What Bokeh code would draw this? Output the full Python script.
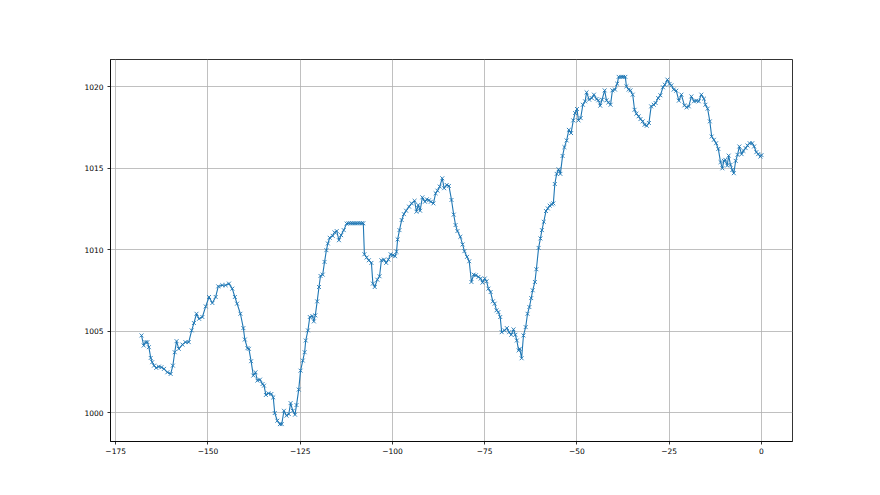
from bokeh.plotting import figure
from bokeh.models import Range1d, FixedTicker, CustomJSTickFormatter, ColumnDataSource
from bokeh.embed import file_html
from bokeh.resources import INLINE

# hours relative to now, pressure readings (hPa)
hours = [
    -168.0, -167.4, -166.9, -166.4, -166.0, -165.5, -165.1, -164.6, -164.0, -163.3,
    -162.6, -161.9, -161.0, -160.1, -159.5, -159.0, -158.5, -157.9, -156.9, -156.1,
    -155.2, -154.4, -153.8, -153.1, -152.4, -151.5, -150.6, -149.7, -148.8, -147.9,
    -147.2, -146.1, -145.2, -144.3, -143.4, -142.7, -142.1, -141.2,
    -140.4, -140.0, -139.3, -138.9, -138.3, -137.7, -137.1, -136.6, -135.9, -135.2,
    -134.8, -134.3, -133.6, -132.8, -132.3, -131.9, -131.2, -130.5, -130.0, -129.4,
    -128.7, -128.1, -127.6, -127.0, -126.4, -126.0, -125.4, -124.9, -124.3, -123.8,
    -123.5, -122.9, -122.4, -121.7, -121.3, -120.9, -120.4, -119.9, -119.5, -118.9,
    -118.4, -117.9, -117.5, -117.0, -116.2, -115.7, -115.1, -114.5, -113.9, -113.2,
    -112.4, -111.9, -111.4, -110.9, -110.4, -109.9, -109.4, -108.8, -108.3, -107.9,
    -107.6, -107.0, -106.4, -105.7, -105.3, -104.8, -104.1, -103.5, -103.0, -102.3,
    -101.7, -101.1, -100.5, -99.9, -99.3, -98.9, -98.6, -98.1, -97.5, -96.9,
    -96.3, -95.5, -94.8, -94.0, -93.5, -93.0, -92.5, -91.9, -91.2, -90.7,
    -90.1, -89.6, -88.9, -88.3, -87.8, -87.2, -86.5, -86.0, -85.3, -84.7,
    -84.0, -83.4, -82.9, -82.4, -81.6, -81.0, -80.5, -79.8, -79.2, -78.6,
    -78.0, -77.4, -76.7, -76.1, -75.6, -75.0, -74.5, -74.0, -73.4, -72.8,
    -72.3, -71.8, -71.3, -70.8, -70.4, -69.6, -69.0, -68.4, -67.8, -67.2,
    -66.7, -66.3, -65.8, -65.5, -65.0, -64.5, -63.9, -63.4, -62.9, -62.4,
    -62.0, -61.4, -61.0, -60.4, -59.9, -59.5, -59.0, -58.4, -57.9, -57.4,
    -56.8, -56.4, -56.0, -55.5, -55.0, -54.5, -53.9, -53.4, -52.8, -52.2,
    -51.6, -51.0, -50.5, -50.0, -49.6, -49.0, -48.4, -47.8, -47.4, -46.7,
    -46.0, -45.4, -44.7, -44.2, -43.7, -43.2, -42.5, -42.0, -41.5, -40.9,
    -40.4, -39.7, -39.1, -38.7, -38.0, -37.5, -36.9, -36.6, -36.0, -35.5,
    -34.9, -34.4, -33.9, -33.3, -32.8, -32.2, -31.7, -31.1, -30.5, -29.9,
    -29.2, -28.7, -28.0, -27.4, -26.7, -26.2, -25.5, -24.9, -24.4, -23.8,
    -23.1, -22.4, -21.7, -20.9, -20.3, -19.7, -19.0, -18.3, -17.7, -17.0,
    -16.3, -15.6, -15.2, -14.6, -14.0, -13.5, -12.9, -12.3, -11.7, -11.1,
    -10.6, -10.2, -9.8, -9.3, -8.9, -8.4, -7.9, -7.5, -7.0, -6.5,
    -6.0, -5.4, -4.9, -4.3, -3.8, -3.2, -2.5, -2.0, -1.4, -0.9,
    -0.3, 0.0,
]
pressure = [
    1004.74, 1004.12, 1004.33, 1004.33, 1004.02, 1003.36, 1003.10, 1002.89, 1002.75, 1002.83,
    1002.79, 1002.69, 1002.48, 1002.38, 1002.89, 1003.71, 1004.39, 1003.92, 1004.18, 1004.33,
    1004.33, 1005.05, 1005.50, 1006.07, 1005.76, 1005.87, 1006.52, 1007.10, 1006.73, 1007.10,
    1007.75, 1007.82, 1007.82, 1007.92, 1007.61, 1007.10, 1006.69, 1006.07,
    1005.19, 1004.49, 1003.96, 1003.92, 1003.16, 1002.28, 1002.48, 1001.97, 1002.03, 1001.76,
    1001.66, 1001.09, 1001.19, 1001.15, 1000.94, 999.98, 999.51, 999.30, 999.30, 1000.12,
    999.82, 999.92, 1000.59, 1000.12, 999.88, 1000.47, 1001.42, 1002.58, 1003.20, 1003.71,
    1004.43, 1005.05, 1005.87, 1005.93, 1005.60, 1005.97, 1006.83, 1007.71, 1008.39, 1008.47,
    1009.25, 1009.97, 1010.38, 1010.73, 1010.85, 1011.06, 1011.14, 1010.58, 1010.89, 1011.20,
    1011.60, 1011.62, 1011.62, 1011.62, 1011.62, 1011.62, 1011.62, 1011.62, 1011.62, 1011.62,
    1009.72, 1009.52, 1009.35, 1009.19, 1007.92, 1007.71, 1008.16, 1008.37, 1009.35, 1009.39,
    1009.19, 1009.39, 1009.72, 1009.66, 1009.60, 1009.87, 1010.63, 1011.20, 1011.82, 1012.18,
    1012.39, 1012.64, 1012.84, 1013.00, 1012.33, 1012.74, 1012.39, 1013.21, 1012.94, 1013.09,
    1013.03, 1012.94, 1012.84, 1013.46, 1013.62, 1013.87, 1014.38, 1013.77, 1013.97, 1013.91,
    1013.05, 1012.15, 1011.51, 1011.14, 1010.79, 1010.32, 1009.91, 1009.56, 1009.29, 1008.02,
    1008.47, 1008.43, 1008.33, 1008.23, 1007.98, 1008.23, 1008.06, 1007.61, 1007.40, 1006.83,
    1006.69, 1006.28, 1006.17, 1005.87, 1004.94, 1005.05, 1005.19, 1004.94, 1004.78, 1005.11,
    1004.78, 1004.43, 1003.82, 1003.92, 1003.34, 1004.74, 1005.25, 1006.07, 1006.48, 1007.03,
    1007.51, 1008.02, 1008.80, 1010.11, 1010.69, 1011.20, 1011.71, 1012.37, 1012.53, 1012.70,
    1012.78, 1012.84, 1014.03, 1014.65, 1014.93, 1014.65, 1015.75, 1016.29, 1016.70, 1017.35,
    1017.15, 1017.93, 1018.38, 1018.63, 1017.93, 1018.07, 1018.89, 1019.10, 1019.65, 1019.20,
    1019.30, 1019.51, 1019.24, 1019.16, 1018.83, 1019.20, 1019.77, 1019.16, 1019.03, 1018.89,
    1019.77, 1019.82, 1020.18, 1020.60, 1020.60, 1020.60, 1020.60, 1020.02, 1019.82, 1019.77,
    1019.51, 1018.58, 1018.34, 1018.18, 1018.01, 1017.87, 1017.66, 1017.60, 1017.77, 1018.79,
    1018.89, 1019.00, 1019.30, 1019.47, 1019.96, 1020.12, 1020.43, 1020.17, 1020.08, 1019.82,
    1019.75, 1019.14, 1019.51, 1018.85, 1018.73, 1018.79, 1019.40, 1019.10, 1019.14, 1019.10,
    1019.51, 1019.26, 1018.89, 1018.65, 1017.87, 1016.94, 1016.74, 1016.53, 1016.18, 1015.37,
    1014.99, 1015.45, 1015.51, 1015.16, 1015.77, 1015.20, 1014.89, 1014.69, 1015.45, 1015.82,
    1016.33, 1015.86, 1016.06, 1016.23, 1016.39, 1016.53, 1016.53, 1016.33, 1015.98, 1015.86,
    1015.71, 1015.80,
]
x_ticks = [-175, -150, -125, -100, -75, -50, -25, 0]
y_ticks = [1000, 1005, 1010, 1015, 1020]

xmin, xmax = min(hours), max(hours)
ymin, ymax = min(pressure), max(pressure)
xpad = 0.05 * (xmax - xmin)
ypad = 0.05 * (ymax - ymin)

p = figure(
    width=864, height=479,
    x_range=Range1d(xmin - xpad, xmax + xpad),
    y_range=Range1d(ymin - ypad, ymax + ypad),
    output_backend="svg", toolbar_location=None,
    min_border_left=110, min_border_right=72,
    min_border_top=59, min_border_bottom=38,
    background_fill_color="white", border_fill_color="white",
)
p.outline_line_color = "black"
p.outline_line_width = 0.8

src = ColumnDataSource(dict(x=hours, y=pressure))
p.line("x", "y", source=src, line_color="#1f77b4", line_width=1.1)
p.scatter("x", "y", source=src, marker="x", size=5.5, line_color="#1f77b4", line_width=0.9)

fmt = CustomJSTickFormatter(code="return (tick < 0 ? '\u2212' : '') + Math.abs(tick).toFixed(0);")
p.xaxis.ticker = FixedTicker(ticks=x_ticks)
p.yaxis.ticker = FixedTicker(ticks=y_ticks)
p.xaxis.formatter = fmt
p.yaxis.formatter = fmt

for ax in (p.xaxis, p.yaxis):
    ax.axis_line_color = "black"
    ax.axis_line_width = 0.8
    ax.major_tick_line_color = "black"
    ax.major_tick_line_width = 0.8
    ax.major_tick_in = 0
    ax.major_tick_out = 3
    ax.minor_tick_line_color = None
    ax.major_label_text_font = "DejaVu Sans"
    ax.major_label_text_font_size = "7.5px"
    ax.major_label_text_color = "black"
p.xaxis.major_label_standoff = 3
p.yaxis.major_label_standoff = 4

p.grid.grid_line_color = "#b0b0b0"
p.grid.grid_line_width = 0.8

open("out.html", "w").write(file_html(p, INLINE))
